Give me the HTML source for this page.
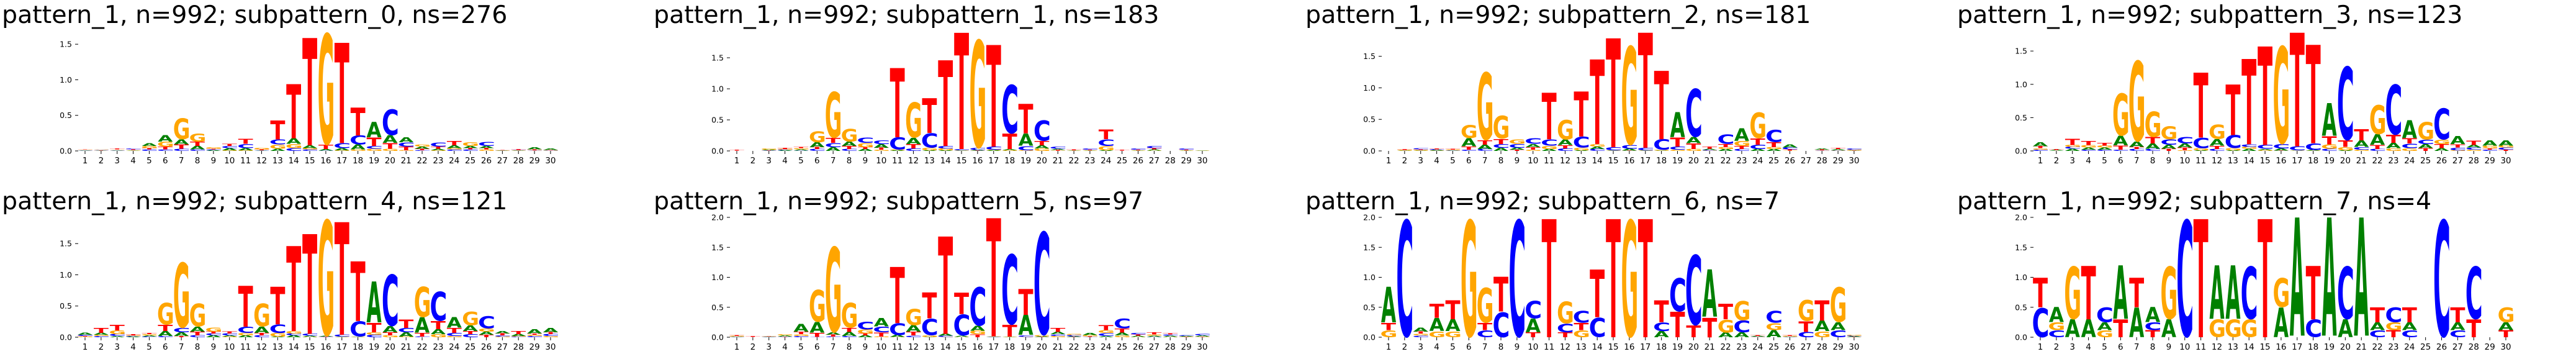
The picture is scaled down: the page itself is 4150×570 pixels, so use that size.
<!DOCTYPE html>
<html><head><meta charset="utf-8">
<style>
html,body{margin:0;padding:0;background:#fff;width:4150px;height:570px;overflow:hidden;}
svg{display:block;overflow:hidden;}
</style></head>
<body>
<svg id="fig" width="4150" height="570" xmlns="http://www.w3.org/2000/svg"></svg>
<script>
const titles = ["pattern_1, n=992; subpattern_0, ns=276","pattern_1, n=992; subpattern_1, ns=183","pattern_1, n=992; subpattern_2, ns=181","pattern_1, n=992; subpattern_3, ns=123","pattern_1, n=992; subpattern_4, ns=121","pattern_1, n=992; subpattern_5, ns=97","pattern_1, n=992; subpattern_6, ns=7","pattern_1, n=992; subpattern_7, ns=4"];
const positions = [1,2,3,4,5,6,7,8,9,10,11,12,13,14,15,16,17,18,19,20,21,22,23,24,25,26,27,28,29,30];
const yTicks = [0,0.5,1,1.5,2];
const yTickLabels = ["0.0","0.5","1.0","1.5","2.0"];
const bases = ["A","C","G","T"];

const p0_A=[.006,.006,.006,.006,.04,.09,.07,.05,.01,.03,.03,.005,.03,.08,.04,.02,.03,.07,.22,.11,.07,.03,.02,.04,.03,.03,.003,.004,.03,.02];
const p0_C=[.006,.006,.006,.01,.02,.02,.03,.02,.01,.03,.06,.005,.07,.04,.02,.005,.07,.13,.04,.37,.06,.01,.06,.02,.02,.06,.003,.004,.005,.005];
const p0_G=[.006,.006,.008,.006,.03,.07,.3,.12,.02,.01,.01,.02,.06,.06,.02,1.6,.01,.02,.03,.03,.01,.03,.01,.02,.05,.02,.003,.003,.005,.005];
const p0_T=[.006,.004,.008,.008,.02,.04,.06,.06,.01,.03,.07,.01,.27,.77,1.53,.06,1.43,.4,.12,.08,.05,.02,.03,.06,.02,.02,.003,.008,.01,.005];

const p1_A=[.002,.002,.01,.01,.02,.08,.06,.07,.03,.06,.01,.1,.01,.01,.005,.01,.01,.02,.2,.05,.02,.003,.005,.01,.002,.005,.02,.002,.005,.003];
const p1_C=[.002,.002,.005,.01,.005,.03,.07,.03,.09,.06,.2,.04,.24,.04,.02,.03,.05,.8,.07,.34,.03,.003,.02,.11,.002,.02,.03,.002,.02,.003];
const p1_G=[.002,.002,.02,.01,.02,.18,.76,.21,.07,.02,.01,.58,.04,.03,.005,1.78,.01,.01,.01,.04,.005,.003,.005,.07,.002,.005,.005,.002,.005,.003];
const p1_T=[.01,.002,.005,.02,.02,.03,.08,.05,.03,.03,1.13,.07,.57,1.4,1.9,.005,1.66,.25,.48,.07,.01,.01,.01,.16,.01,.01,.02,.002,.01,.003];

const p2_A=[.002,.005,.005,.01,.005,.13,.07,.05,.03,.05,.03,.09,.01,.04,.005,.03,.005,.005,.4,.1,.02,.03,.2,.03,.03,.05,.002,.02,.02,.005];
const p2_C=[.002,.002,.02,.01,.005,.02,.03,.06,.06,.09,.1,.04,.18,.03,.05,.06,.04,.17,.05,.78,.01,.15,.03,.07,.2,.03,.002,.005,.005,.02];
const p2_G=[.002,.01,.01,.005,.01,.21,1.1,.37,.07,.02,.05,.32,.04,.04,.005,1.6,.005,.01,.02,.03,.005,.03,.08,.42,.03,.005,.002,.005,.005,.01];
const p2_T=[.002,.01,.01,.01,.01,.05,.07,.08,.02,.04,.75,.05,.72,1.36,1.75,.005,1.85,1.1,.14,.09,.03,.05,.05,.1,.08,.02,.002,.01,.02,.005];

const p3_A=[.06,.01,.03,.03,.03,.15,.08,.08,.06,.06,.01,.1,.01,.03,.02,.03,.005,.01,.5,.01,.1,.16,.08,.27,.06,.04,.12,.04,.08,.08];
const p3_C=[.02,.002,.03,.02,.02,.02,.03,.03,.08,.1,.16,.03,.2,.04,.06,.07,.06,.1,.03,1.13,.04,.03,.77,.07,.07,.48,.04,.03,.02,.03];
const p3_G=[.02,.002,.03,.04,.03,.65,1.24,.39,.2,.01,.03,.22,.03,.03,.01,1.5,.005,.005,.07,.05,.02,.45,.04,.04,.27,.07,.01,.02,.04,.03];
const p3_T=[.03,.01,.09,.06,.04,.06,.03,.1,.03,.04,.99,.05,.77,1.3,1.5,.005,1.73,1.5,.12,.1,.17,.06,.12,.08,.04,.06,.05,.07,.02,.02];

const p4_A=[.03,.03,.02,.01,.02,.08,.06,.08,.03,.02,.03,.1,.01,.03,.02,.01,.005,.005,.66,.1,.07,.25,.08,.17,.09,.05,.04,.03,.07,.07];
const p4_C=[.02,.02,.03,.01,.01,.02,.07,.03,.03,.03,.1,.03,.14,.03,.03,.005,.03,.25,.04,.84,.07,.01,.48,.05,.05,.2,.02,.01,.02,.03];
const p4_G=[.01,.02,.06,.01,.02,.36,1.07,.38,.07,.01,.04,.38,.06,.04,.005,1.9,.005,.005,.04,.03,.01,.5,.05,.02,.22,.05,.01,.01,.02,.02];
const p4_T=[.01,.08,.09,.02,.02,.1,.02,.06,.03,.03,.66,.04,.61,1.38,1.62,.005,1.83,.97,.15,.05,.14,.06,.13,.08,.05,.04,.03,.05,.02,.03];

const p5_A=[.005,.002,.005,.02,.13,.18,.04,.07,.03,.14,.03,.11,.005,.03,.02,.08,.005,.005,.34,.01,.04,.01,.03,.02,.05,.02,.02,.02,.01,.02];
const p5_C=[.005,.002,.005,.005,.02,.005,.01,.02,.13,.1,.2,.03,.28,.02,.36,.66,.005,1.2,.03,1.76,.03,.02,.005,.05,.17,.03,.005,.02,.01,.03];
const p5_G=[.01,.002,.005,.02,.03,.55,1.46,.43,.07,.01,.005,.28,.03,.005,.005,.06,.005,.005,.005,.02,.02,.02,.02,.05,.03,.005,.02,.005,.005,.005];
const p5_T=[.01,.01,.005,.005,.04,.07,.03,.07,.03,.07,.95,.06,.44,1.65,.36,.05,2.0,.2,.44,.005,.07,.005,.01,.08,.07,.02,.03,.02,.005,.005];

const p6_A=[.6,0,.07,.22,.2,0,0,0,0,.23,0,0,0,0,0,0,0,.1,0,0,.8,.08,.08,.01,.12,.005,0,.18,.13,.01];
const p6_C=[0,2,.03,0,0,0,.12,.43,2,.3,0,.15,.2,.33,0,0,0,.15,.57,1.2,0,0,.2,.005,.2,.005,.09,0,.12,.01];
const p6_G=[.12,0,.03,.1,.1,2,.6,0,0,0,0,.37,.12,0,0,2,0,0,0,0,0,.22,.33,.005,.12,.01,.36,.1,.6,.01];
const p6_T=[.12,0,.03,.24,.32,0,.12,.59,0,.08,2,.08,.12,.81,2,0,2,.37,.43,.2,.33,.26,0,.01,0,.01,.18,.34,0,.005];

const p7_A=[0,.25,.3,.3,.13,.9,.5,.25,.3,0,0,.9,.9,0,0,.5,2,0,2,.3,2,.13,0,.13,0,0,.13,0,0,.13];
const p7_C=[.5,.12,0,0,.25,0,0,.13,0,2,0,0,0,.9,0,0,0,.3,0,.9,0,.12,.25,.12,0,2,.12,.9,0,0];
const p7_G=[0,.13,.9,0,.12,0,0,0,.9,0,0,.3,.3,.3,0,.5,0,0,0,0,0,0,.13,0,0,0,0,0,0,.25];
const p7_T=[.5,0,0,.9,0,.3,.5,.12,0,0,2,0,0,0,2,0,0,.9,0,0,0,.25,.12,.25,0,0,.25,.3,0,.12];

const panels=[[p0_A,p0_C,p0_G,p0_T],[p1_A,p1_C,p1_G,p1_T],[p2_A,p2_C,p2_G,p2_T],[p3_A,p3_C,p3_G,p3_T],
              [p4_A,p4_C,p4_G,p4_T],[p5_A,p5_C,p5_G,p5_T],[p6_A,p6_C,p6_G,p6_T],[p7_A,p7_C,p7_G,p7_T]];

const NS="http://www.w3.org/2000/svg";
const svg=document.getElementById('fig');
const colors={A:"#008000",C:"#0000ff",G:"#ffa500",T:"#ff0000"};
const FONT="'DejaVu Sans', 'Liberation Sans', sans-serif";

const cv=document.createElement('canvas');const ctx=cv.getContext('2d');
ctx.font="bold 100px 'DejaVu Sans', sans-serif";
const ink={};
bases.forEach(b=>{const m=ctx.measureText(b);
  let l=-m.actualBoundingBoxLeft,r=m.actualBoundingBoxRight,t=-m.actualBoundingBoxAscent,d=m.actualBoundingBoxDescent;
  if(!(r-l>1)||!(d-t>1)){l=0;r=70;t=-73;d=0;}
  ink[b]={l,r,t,d};});

function mk(tag,attrs,parent){const e=document.createElementNS(NS,tag);for(const k in attrs)e.setAttribute(k,attrs[k]);parent.appendChild(e);return e;}

const colW=1050,rowH=300,yZero=243,yTop=50,x0=137,step=25.86,letterW=24;

panels.forEach((pd,pi)=>{
  const col=pi%4,row=Math.floor(pi/4);
  const ox=col*colW,oy=row*rowH;
  const g=mk('g',{},svg);
  
  
  const tt=mk('text',{x:ox+3,y:oy+37,'font-size':39.5,'font-family':FONT,fill:'#000'},g);
  tt.textContent=titles[pi];
  
  
  let ymax=0;
  positions.forEach((p,i)=>{let s=0;for(let k=0;k<4;k++)s+=pd[k][i];ymax=Math.max(ymax,s);});
  ymax=Math.min(Math.max(ymax,0.5),2.0);
  const yS=v=>oy+yZero-(v/ymax)*(yZero-yTop);
  const xS=p=>ox+x0+(p-1)*step;
  yTicks.forEach((v,ti)=>{ if(v>ymax+0.02) return;
    const y=yS(v);
    const tl=mk('line',{x1:ox+121,x2:ox+126,y1:y,y2:y,stroke:'#000','stroke-width':1},g);
    
    
    const tx=mk('text',{x:ox+116,y:y+4.5,'font-size':12.5,'font-family':FONT,'text-anchor':'end',fill:'#000'},g);
    tx.textContent=yTickLabels[ti];
    
    
  });
  positions.forEach(p=>{const x=xS(p);
    const tl=mk('line',{x1:x,x2:x,y1:oy+yZero,y2:oy+yZero+5,stroke:'#000','stroke-width':1},g);
    
    
    const tx=mk('text',{x:x,y:oy+263,'font-size':13.5,'font-family':FONT,'text-anchor':'middle',fill:'#000'},g);
    tx.textContent=String(p);
    
    
  });
  positions.forEach((p,i)=>{
    const items=bases.map((b,k)=>({b,v:pd[k][i]})).filter(o=>o.v>0).sort((a,b)=>a.v-b.v);
    let cum=0;
    items.forEach(o=>{
      const yb=yS(cum),yt=yS(cum+o.v);cum+=o.v;
      const h=yb-yt; if(h<0.3) return;
      const m=ink[o.b];
      const sx=letterW/(m.r-m.l),sy=h/(m.d-m.t);
      const bx=xS(p)-letterW/2;
      const el=mk('text',{x:0,y:0,'font-size':100,'font-weight':'bold','font-family':"'DejaVu Sans', sans-serif",fill:colors[o.b],
        transform:`translate(${bx},${yt}) scale(${sx},${sy}) translate(${-m.l},${-m.t})`},g);
      el.textContent=o.b;
      
      
    });
  });
});
</script>
</body></html>
